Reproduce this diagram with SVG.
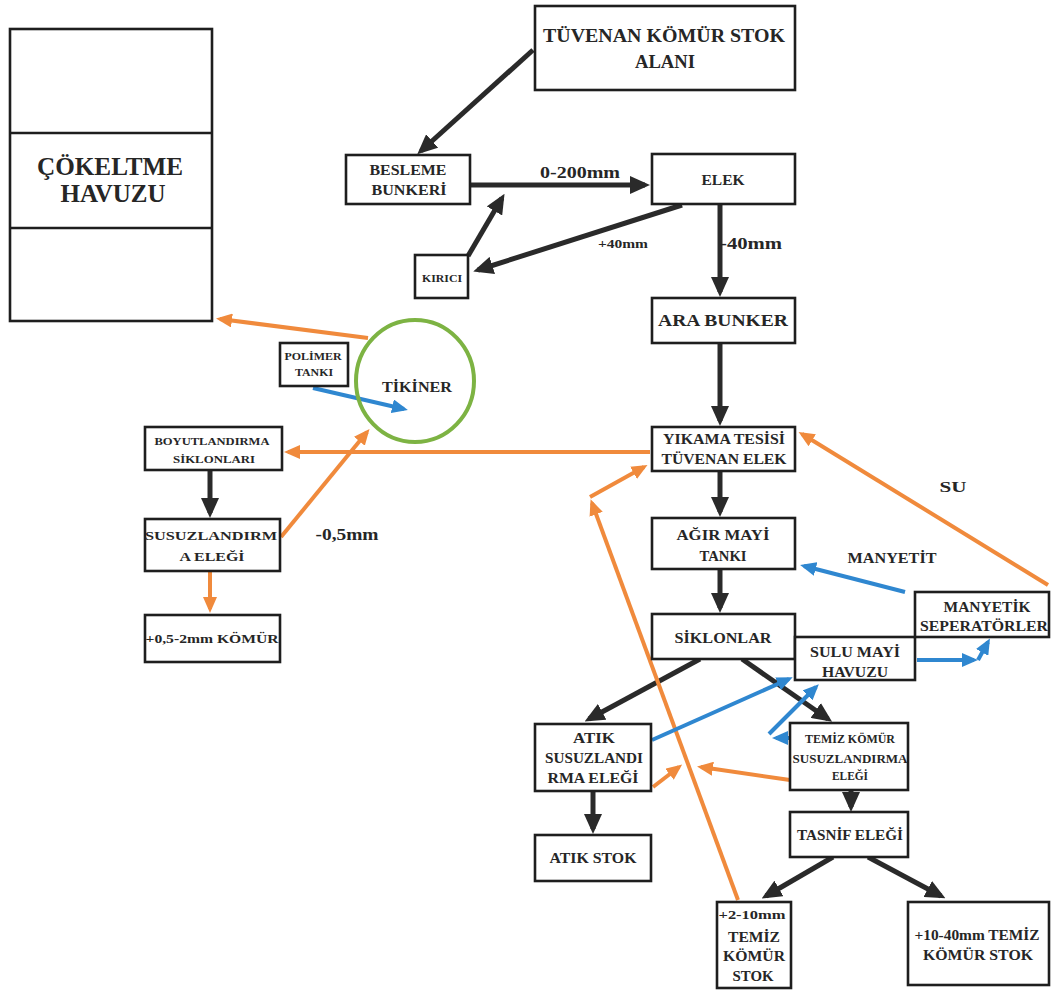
<svg xmlns="http://www.w3.org/2000/svg" width="1051" height="991" viewBox="0 0 1051 991">
<defs>
<style>
.box{fill:#fff;stroke:#1e1e1e;stroke-width:2.6}
.t{font-family:"Liberation Serif","DejaVu Serif","Times New Roman",serif;font-weight:bold;fill:#262626;text-anchor:middle}
.dk{stroke:#2a2a2a;stroke-width:5;fill:none}
.or{stroke:#f08a3c;stroke-width:4;fill:none}
.bl{stroke:#2f87d0;stroke-width:4;fill:none}
</style>
<marker id="ad" markerUnits="userSpaceOnUse" markerWidth="20" markerHeight="18" viewBox="0 0 20 18" refX="15" refY="9" orient="auto"><path d="M0,0 L20,9 L0,18 z" fill="#2a2a2a"/></marker>
<marker id="ao" markerUnits="userSpaceOnUse" markerWidth="16" markerHeight="14" viewBox="0 0 16 14" refX="12" refY="7" orient="auto"><path d="M0,0 L16,7 L0,14 z" fill="#f08a3c"/></marker>
<marker id="ab" markerUnits="userSpaceOnUse" markerWidth="16" markerHeight="14" viewBox="0 0 16 14" refX="12" refY="7" orient="auto"><path d="M0,0 L16,7 L0,14 z" fill="#2f87d0"/></marker>
</defs>
<rect width="1051" height="991" fill="#fff"/>

<g id="connectors">
<path class="dk" d="M533,50 L421,151" marker-end="url(#ad)"/>
<path class="dk" d="M470,185 L645,185" marker-end="url(#ad)"/>
<path class="dk" d="M682,205 L478,270" marker-end="url(#ad)"/>
<path class="dk" d="M468,256 L502,198" marker-end="url(#ad)"/>
<path class="dk" d="M720,205 L720,292" marker-end="url(#ad)"/>
<path class="dk" d="M720,343 L720,421" marker-end="url(#ad)"/>
<path class="dk" d="M720,471 L720,512" marker-end="url(#ad)"/>
<path class="dk" d="M720,569 L720,608" marker-end="url(#ad)"/>
<path class="dk" d="M700,659 L589,719" marker-end="url(#ad)"/>
<path class="dk" d="M742,659 L828,719" marker-end="url(#ad)"/>
<path class="dk" d="M851,790 L851,807" marker-end="url(#ad)"/>
<path class="dk" d="M593,791 L593,829" marker-end="url(#ad)"/>
<path class="dk" d="M833,857 L766,896" marker-end="url(#ad)"/>
<path class="dk" d="M868,857 L941,896" marker-end="url(#ad)"/>
<path class="dk" d="M210,470 L210,513" marker-end="url(#ad)"/>

<path class="or" d="M368,338 L220,319" marker-end="url(#ao)"/>
<path class="or" d="M650,452 L288,452" marker-end="url(#ao)"/>
<path class="or" d="M281,537 L367,432" marker-end="url(#ao)"/>
<path class="or" d="M210,571 L210,609" marker-end="url(#ao)"/>
<path class="or" d="M1048,585 L802,434" marker-end="url(#ao)"/>
<path class="or" d="M738,900 L592,503" marker-end="url(#ao)"/>
<path class="or" d="M590,497 L644,467" marker-end="url(#ao)"/>
<path class="or" d="M790,780 L701,767" marker-end="url(#ao)"/>
<path class="or" d="M653,787 L679,767" marker-end="url(#ao)"/>

<path class="bl" d="M313,388 L404,409" marker-end="url(#ab)"/>
<path class="bl" d="M905,592 L804,566" marker-end="url(#ab)"/>
<path class="bl" d="M917,660 L974,660" marker-end="url(#ab)"/>
<path class="bl" d="M978,660 L988,642" marker-end="url(#ab)"/>
<path class="bl" d="M652,740 L789,679" marker-end="url(#ab)"/>
<path class="bl" d="M790,738 L776,738" marker-end="url(#ab)"/>
<path class="bl" d="M769,734 L816,687" marker-end="url(#ab)"/>
</g>

<g id="cokeltme-havuzu">
<rect class="box" x="10" y="29" width="202" height="292"/>
<line x1="10" y1="133" x2="212" y2="133" stroke="#1e1e1e" stroke-width="2.6"/>
<line x1="10" y1="228" x2="212" y2="228" stroke="#1e1e1e" stroke-width="2.6"/>
<text class="t" x="110" y="175" font-size="25" textLength="146" lengthAdjust="spacingAndGlyphs">ÇÖKELTME</text>
<text class="t" x="113" y="202" font-size="25" textLength="105" lengthAdjust="spacingAndGlyphs">HAVUZU</text>
</g>

<g id="tuvenan-stok">
<rect class="box" x="535" y="6" width="260" height="84"/>
<text class="t" x="664" y="42" font-size="18" textLength="242" lengthAdjust="spacingAndGlyphs">TÜVENAN KÖMÜR STOK</text>
<text class="t" x="665" y="68" font-size="18" textLength="60" lengthAdjust="spacingAndGlyphs">ALANI</text>
</g>

<g id="besleme-bunkeri">
<rect class="box" x="346" y="155" width="124" height="49"/>
<text class="t" x="408" y="175" font-size="14" textLength="77" lengthAdjust="spacingAndGlyphs">BESLEME</text>
<text class="t" x="409" y="195" font-size="14" textLength="75" lengthAdjust="spacingAndGlyphs">BUNKERİ</text>
</g>

<g id="elek">
<rect class="box" x="652" y="154" width="143" height="50"/>
<text class="t" x="723" y="185" font-size="14" textLength="43" lengthAdjust="spacingAndGlyphs">ELEK</text>
</g>

<g id="kirici">
<rect class="box" x="415" y="255" width="53" height="43"/>
<text class="t" x="442" y="282" font-size="11" textLength="40" lengthAdjust="spacingAndGlyphs">KIRICI</text>
</g>

<g id="labels">
<text class="t" x="580" y="178" font-size="16" textLength="80" lengthAdjust="spacingAndGlyphs">0-200mm</text>
<text class="t" x="623" y="248" font-size="12" textLength="50" lengthAdjust="spacingAndGlyphs">+40mm</text>
<text class="t" x="751" y="249" font-size="16" textLength="62" lengthAdjust="spacingAndGlyphs">-40mm</text>
<text class="t" x="347" y="540" font-size="16" textLength="63" lengthAdjust="spacingAndGlyphs">-0,5mm</text>
<text class="t" x="953" y="492" font-size="15" textLength="27" lengthAdjust="spacingAndGlyphs">SU</text>
<text class="t" x="892" y="563" font-size="14" textLength="89" lengthAdjust="spacingAndGlyphs">MANYETİT</text>
</g>

<g id="ara-bunker">
<rect class="box" x="652" y="298" width="143" height="45"/>
<text class="t" x="723" y="326" font-size="17" textLength="130" lengthAdjust="spacingAndGlyphs">ARA BUNKER</text>
</g>

<g id="yikama-tesisi">
<rect class="box" x="652" y="427" width="143" height="44"/>
<text class="t" x="724" y="444" font-size="14" textLength="122" lengthAdjust="spacingAndGlyphs">YIKAMA TESİSİ</text>
<text class="t" x="724" y="464" font-size="14" textLength="125" lengthAdjust="spacingAndGlyphs">TÜVENAN ELEK</text>
</g>

<g id="agir-mayi-tanki">
<rect class="box" x="652" y="518" width="143" height="51"/>
<text class="t" x="723" y="540" font-size="15" textLength="93" lengthAdjust="spacingAndGlyphs">AĞIR MAYİ</text>
<text class="t" x="723" y="561" font-size="15" textLength="47" lengthAdjust="spacingAndGlyphs">TANKI</text>
</g>

<g id="siklonlar">
<rect class="box" x="652" y="614" width="143" height="45"/>
<text class="t" x="723" y="643" font-size="15" textLength="97" lengthAdjust="spacingAndGlyphs">SİKLONLAR</text>
</g>

<g id="sulu-mayi-havuzu">
<rect class="box" x="795" y="637" width="120" height="43"/>
<text class="t" x="855" y="657" font-size="14" textLength="90" lengthAdjust="spacingAndGlyphs">SULU MAYİ</text>
<text class="t" x="855" y="677" font-size="14" textLength="66" lengthAdjust="spacingAndGlyphs">HAVUZU</text>
</g>

<g id="manyetik-seperatorler">
<rect class="box" x="915" y="592" width="134" height="45"/>
<text class="t" x="987" y="612" font-size="14" textLength="87" lengthAdjust="spacingAndGlyphs">MANYETİK</text>
<text class="t" x="984" y="631" font-size="14" textLength="128" lengthAdjust="spacingAndGlyphs">SEPERATÖRLER</text>
</g>

<g id="temiz-komur-susuzlandirma">
<rect class="box" x="790" y="723" width="118" height="67"/>
<text class="t" x="850" y="743" font-size="12" textLength="90" lengthAdjust="spacingAndGlyphs">TEMİZ KÖMÜR</text>
<text class="t" x="850" y="763" font-size="12" textLength="115" lengthAdjust="spacingAndGlyphs">SUSUZLANDIRMA</text>
<text class="t" x="850" y="780" font-size="12" textLength="36" lengthAdjust="spacingAndGlyphs">ELEĞİ</text>
</g>

<g id="atik-susuzlandirma">
<rect class="box" x="535" y="724" width="116" height="67"/>
<text class="t" x="594" y="743" font-size="14" textLength="42" lengthAdjust="spacingAndGlyphs">ATIK</text>
<text class="t" x="594" y="763" font-size="14" textLength="98" lengthAdjust="spacingAndGlyphs">SUSUZLANDI</text>
<text class="t" x="593" y="783" font-size="14" textLength="91" lengthAdjust="spacingAndGlyphs">RMA ELEĞİ</text>
</g>

<g id="atik-stok">
<rect class="box" x="535" y="835" width="116" height="46"/>
<text class="t" x="593" y="863" font-size="14" textLength="87" lengthAdjust="spacingAndGlyphs">ATIK STOK</text>
</g>

<g id="tasnif-elegi">
<rect class="box" x="790" y="812" width="118" height="45"/>
<text class="t" x="850" y="840" font-size="14" textLength="106" lengthAdjust="spacingAndGlyphs">TASNİF ELEĞİ</text>
</g>

<g id="temiz-2-10">
<rect class="box" x="717" y="902" width="74" height="86"/>
<text class="t" x="752" y="919" font-size="13" textLength="67" lengthAdjust="spacingAndGlyphs">+2-10mm</text>
<text class="t" x="754" y="942" font-size="14" textLength="52" lengthAdjust="spacingAndGlyphs">TEMİZ</text>
<text class="t" x="754" y="961" font-size="14" textLength="62" lengthAdjust="spacingAndGlyphs">KÖMÜR</text>
<text class="t" x="753" y="981" font-size="14" textLength="41" lengthAdjust="spacingAndGlyphs">STOK</text>
</g>

<g id="temiz-10-40">
<rect class="box" x="908" y="902" width="141" height="83"/>
<text class="t" x="977" y="940" font-size="14" textLength="125" lengthAdjust="spacingAndGlyphs">+10-40mm TEMİZ</text>
<text class="t" x="978" y="960" font-size="14" textLength="110" lengthAdjust="spacingAndGlyphs">KÖMÜR STOK</text>
</g>

<g id="polimer-tanki">
<rect class="box" x="280" y="343" width="68" height="43"/>
<text class="t" x="313" y="360" font-size="11" textLength="57" lengthAdjust="spacingAndGlyphs">POLİMER</text>
<text class="t" x="314" y="376" font-size="11" textLength="38" lengthAdjust="spacingAndGlyphs">TANKI</text>
</g>

<g id="tikiner">
<ellipse cx="415" cy="381" rx="59" ry="61" fill="none" stroke="#7db343" stroke-width="4"/>
<text class="t" x="417" y="392" font-size="14" textLength="70" lengthAdjust="spacingAndGlyphs">TİKİNER</text>
</g>

<g id="boyutlandirma-siklonlari">
<rect class="box" x="145" y="427" width="137" height="43"/>
<text class="t" x="212" y="445" font-size="11" textLength="115" lengthAdjust="spacingAndGlyphs">BOYUTLANDIRMA</text>
<text class="t" x="214" y="463" font-size="11" textLength="82" lengthAdjust="spacingAndGlyphs">SİKLONLARI</text>
</g>

<g id="susuzlandirma-elegi">
<rect class="box" x="145" y="519" width="135" height="52"/>
<text class="t" x="211" y="540" font-size="13" textLength="132" lengthAdjust="spacingAndGlyphs">SUSUZLANDIRM</text>
<text class="t" x="212" y="561" font-size="13" textLength="65" lengthAdjust="spacingAndGlyphs">A ELEĞİ</text>
</g>

<g id="komur-05-2">
<rect class="box" x="145" y="615" width="135" height="47"/>
<text class="t" x="212" y="643" font-size="13" textLength="133" lengthAdjust="spacingAndGlyphs">+0,5-2mm KÖMÜR</text>
</g>
</svg>
